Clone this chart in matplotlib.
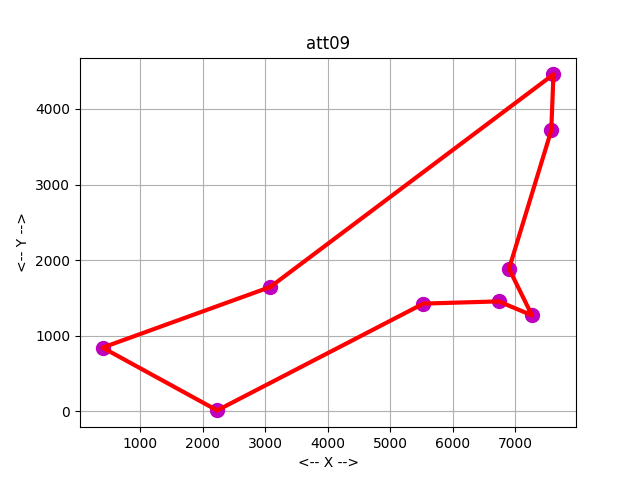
import matplotlib
matplotlib.use("Agg")
import matplotlib.pyplot as plt

# city coordinates in tour order
xs = [3082, 401, 2233, 5530, 6734, 7265, 6898, 7573, 7608]
ys = [1644, 841, 10, 1424, 1453, 1268, 1885, 3716, 4458]

tour_x = xs + [xs[0]]
tour_y = ys + [ys[0]]

plt.figure(figsize=(6.4, 4.8), dpi=100)
plt.scatter(xs, ys, s=100, c='m', zorder=2)
plt.plot(tour_x, tour_y, 'r', linewidth=3, zorder=3)
plt.title('att09')
plt.xlabel('<-- X -->')
plt.ylabel('<-- Y -->')
plt.grid(True)
plt.savefig('out.png')
